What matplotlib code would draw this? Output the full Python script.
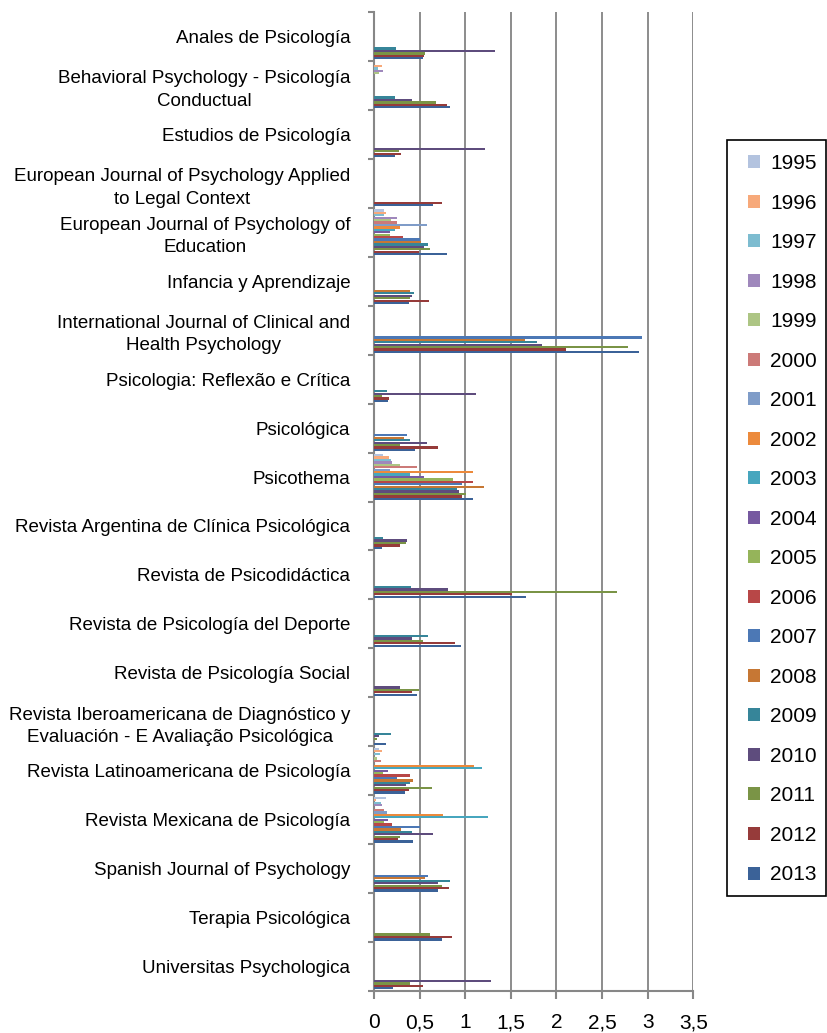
import numpy as np
import matplotlib
matplotlib.use("Agg")
from matplotlib import pyplot as plt
from matplotlib.patches import Rectangle

plt.rcParams['font.family'] = ['Liberation Sans', 'DejaVu Sans']

journals = [
    "Anales de Psicología",
    "Behavioral Psychology - Psicología\nConductual",
    "Estudios de Psicología",
    "European Journal of Psychology Applied\nto Legal Context",
    "European Journal of Psychology of\nEducation",
    "Infancia y Aprendizaje",
    "International Journal of Clinical and\nHealth Psychology",
    "Psicologia: Reflexão e Crítica",
    "Psicológica",
    "Psicothema",
    "Revista Argentina de Clínica Psicológica",
    "Revista de Psicodidáctica",
    "Revista de Psicología del Deporte",
    "Revista de Psicología Social",
    "Revista Iberoamericana de Diagnóstico y\nEvaluación - E Avaliação Psicológica",
    "Revista Latinoamericana de Psicología",
    "Revista Mexicana de Psicología",
    "Spanish Journal of Psychology",
    "Terapia Psicológica",
    "Universitas Psychologica",
]

years = list(range(1995, 2014))

# one list per journal, values for 1995 ... 2013
anales = [0, 0, 0, 0, 0, 0, 0, 0, 0, 0, 0, 0, 0, 0, 0.24, 1.33, 0.56, 0.55, 0.54]
behavioral = [0, 0.084, 0.04, 0.10, 0.05, 0, 0, 0, 0, 0, 0, 0, 0, 0, 0.226, 0.42, 0.68, 0.80, 0.83]
estudios = [0, 0, 0, 0, 0, 0, 0, 0, 0, 0, 0, 0, 0, 0, 0, 1.215, 0.27, 0.30, 0.23]
legal = [0, 0, 0, 0, 0, 0, 0, 0, 0, 0, 0, 0, 0, 0, 0, 0, 0, 0.75, 0.65]
education = [0.11, 0.13, 0.11, 0.25, 0.19, 0.25, 0.58, 0.28, 0.23, 0.18, 0.18, 0.32, 0.50, 0.52, 0.59, 0.55, 0.61, 0.49, 0.80]
infancia = [0, 0, 0, 0, 0, 0, 0, 0, 0, 0, 0, 0, 0, 0.39, 0.44, 0.42, 0.39, 0.60, 0.38]
clinical = [0, 0, 0, 0, 0, 0, 0, 0, 0, 0, 0, 0, 2.94, 1.65, 1.79, 1.84, 2.78, 2.10, 2.91]
reflexao = [0, 0, 0, 0, 0, 0, 0, 0, 0, 0, 0, 0, 0, 0, 0.146, 1.12, 0.084, 0.164, 0.153]
psicologica = [0, 0, 0, 0, 0, 0, 0, 0, 0, 0, 0, 0, 0.36, 0.33, 0.40, 0.58, 0.29, 0.70, 0.45]
psicothema = [0.10, 0.16, 0.19, 0.20, 0.29, 0.47, 0.18, 1.09, 0.40, 0.55, 0.87, 1.08, 0.96, 1.21, 0.91, 0.93, 1.01, 0.96, 1.08]
argentina = [0, 0, 0, 0, 0, 0, 0, 0, 0, 0, 0, 0, 0, 0, 0.10, 0.36, 0.35, 0.29, 0.09]
psicodidactica = [0, 0, 0, 0, 0, 0, 0, 0, 0, 0, 0, 0, 0, 0, 0.41, 0.81, 2.66, 1.51, 1.67]
deporte = [0, 0, 0, 0, 0, 0, 0, 0, 0, 0, 0, 0, 0, 0, 0.59, 0.42, 0.54, 0.89, 0.95]
social = [0, 0, 0, 0, 0, 0, 0, 0, 0, 0, 0, 0, 0, 0, 0, 0.29, 0.49, 0.42, 0.47]
ibero = [0, 0, 0, 0, 0, 0, 0, 0, 0, 0, 0, 0, 0, 0, 0.19, 0.055, 0.03, 0, 0.13]
latino = [0.06, 0.088, 0.066, 0, 0.03, 0.077, 0, 1.10, 1.18, 0.15, 0.095, 0.40, 0.25, 0.43, 0.39, 0.35, 0.64, 0.38, 0.34]
mexicana = [0.13, 0.02, 0.077, 0.084, 0, 0.105, 0.146, 0.755, 1.25, 0.157, 0.11, 0.197, 0.50, 0.30, 0.42, 0.65, 0.28, 0.26, 0.43]
spanish = [0, 0, 0, 0, 0, 0, 0, 0, 0, 0, 0, 0, 0.59, 0.56, 0.83, 0.70, 0.74, 0.82, 0.70]
terapia = [0, 0, 0, 0, 0, 0, 0, 0, 0, 0, 0, 0, 0, 0, 0, 0, 0.61, 0.85, 0.75]
universitas = [0, 0, 0, 0, 0, 0, 0, 0, 0, 0, 0, 0, 0, 0, 0, 1.28, 0.39, 0.54, 0.21]

rows = [anales, behavioral, estudios, legal, education, infancia, clinical,
        reflexao, psicologica, psicothema, argentina, psicodidactica, deporte,
        social, ibero, latino, mexicana, spanish, terapia, universitas]
values = np.array(rows)

colors = ['#B3C3DF', '#F7A97A', '#7DBCD0', '#9F88BC', '#ADC584', '#CC7A78',
          '#7F9CC8', '#EC8A3C', '#47A6BE', '#7659A0', '#95B45A', '#B84747',
          '#4C78B5', '#C67734', '#368599', '#5E4C7D', '#7A9446', '#963B3A',
          '#3B6298']

W, H = 827, 1033
fig = plt.figure(figsize=(W / 100, H / 100), dpi=100)
ax = fig.add_axes([374 / W, 1 - 991 / H, (693.3 - 374) / W, (991 - 12) / H])

pitch = 0.0496
pos = np.arange(len(journals))
for k, yr in enumerate(years):
    ax.barh(pos + (k - 9) * pitch, values[:, k], height=pitch * 0.92,
            color=colors[k], label=str(yr), zorder=3)

ax.set_xlim(0, 3.5)
ax.set_ylim(len(journals) - 0.5, -0.5)

xt = np.arange(0, 3.51, 0.5)
ax.set_xticks(xt)
ax.set_xticklabels([('%g' % v).replace('.', ',') for v in xt], fontsize=15)
ax.tick_params(axis='x', length=6, width=1.5, color='#878787', pad=10)

ax.set_yticks(np.arange(-0.5, len(journals)), minor=False)
ax.set_yticklabels([])
ax.tick_params(axis='y', which='major', length=4.5, width=1.5, color='#878787')
ax.set_yticks(pos, minor=True)
ax.set_yticklabels(journals, minor=True, fontsize=13.5,
                   multialignment='center', linespacing=1.4)
ax.tick_params(axis='y', which='minor', length=0, pad=17)

for s in ['top', 'right']:
    ax.spines[s].set_visible(False)
for s in ['left', 'bottom']:
    ax.spines[s].set_color('#878787')
    ax.spines[s].set_linewidth(1.5)

ax.xaxis.grid(True, color='#8c8c8c', linewidth=1.4, zorder=0)
ax.set_axisbelow(True)

fig.patches.append(Rectangle((727 / W, 1 - 896 / H), (826 - 727) / W, (896 - 140) / H,
                             transform=fig.transFigure, fill=False,
                             edgecolor='black', linewidth=1.2))
ax.legend(loc='upper left', bbox_to_anchor=(748 / W, 1 - 154 / H),
          bbox_transform=fig.transFigure, frameon=False, fontsize=15,
          handlelength=0.58, handleheight=0.58, handletextpad=0.48,
          labelspacing=0.985, borderpad=0, borderaxespad=0)

fig.savefig('out.png', dpi=100)
